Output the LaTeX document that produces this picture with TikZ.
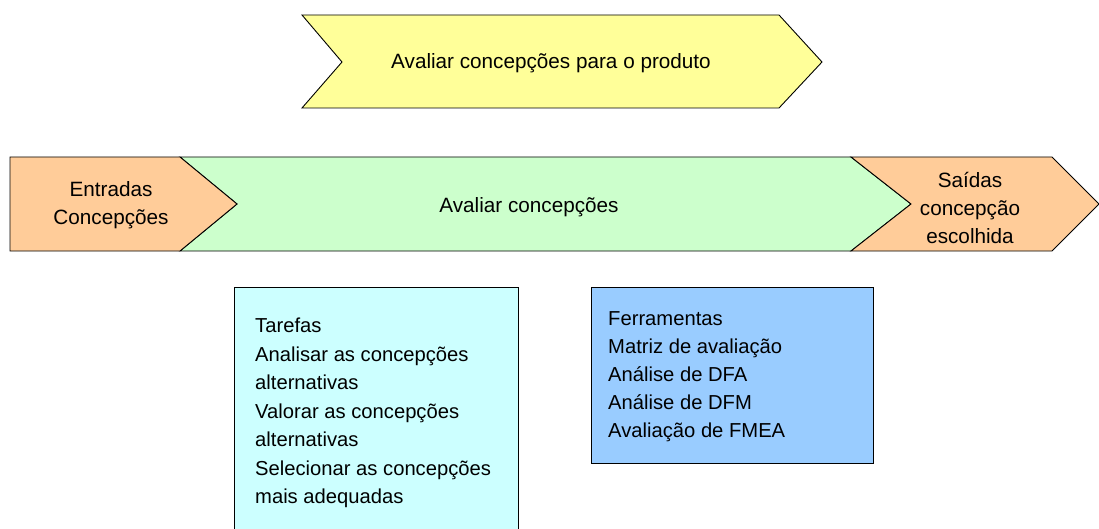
\documentclass[tikz,border=0pt]{standalone}
\usepackage{fontspec}
\setmainfont{Liberation Sans}
\definecolor{cyell}{HTML}{FFFF99}
\definecolor{cgreen}{HTML}{CCFFCC}
\definecolor{corange}{HTML}{FFCC99}
\definecolor{ccyan}{HTML}{CCFFFF}
\definecolor{cblue}{HTML}{99CCFF}
\tikzset{
  shp/.style={draw=black,line width=0.9pt,line join=miter},
  lbl/.style={inner sep=0pt,font=\fontsize{20.7}{28.3}\selectfont,align=center},
  lst/.style={inner sep=0pt,align=left,anchor=north west},
}
\begin{document}
\begin{tikzpicture}[x=1pt,y=-1pt]
\useasboundingbox (0,0) rectangle (1099,529);
% top chevron
\filldraw[shp,fill=cyell] (302,15) -- (779,15) -- (822,62) -- (779,108) -- (302,108) -- (342,62) -- cycle;
\node[lbl] (top) at (551,63) {Avaliar concepções para o produto};
% green band
\filldraw[shp,fill=cgreen] (180,157) -- (851,157) -- (911,204) -- (851,251) -- (180,251) -- (237,204) -- cycle;
\node[lbl] (mid) at (529,207) {Avaliar concepções};
% inputs
\filldraw[shp,fill=corange] (10,157) -- (180,157) -- (237,204) -- (180,251) -- (10,251) -- cycle;
\node[lbl] (in) at (111,205) {Entradas\\Concepções};
% outputs
\filldraw[shp,fill=corange] (851,157) -- (1052,157) -- (1099,204) -- (1052,251) -- (851,251) -- (911,204) -- cycle;
\node[lbl] (out) at (970,208) {Saídas\\concepção\\escolhida};
% boxes
\filldraw[shp,fill=ccyan] (234,287) rectangle (518,545);
\node[lst,font=\fontsize{20.2}{28.5}\selectfont] (tasks) at (255,318) {Tarefas\\Analisar as concepções\\alternativas\\Valorar as concepções\\alternativas\\Selecionar as concepções\\mais adequadas};
\filldraw[shp,fill=cblue] (591,287) rectangle (873,463);
\node[lst,font=\fontsize{20.2}{28.2}\selectfont] (tools) at (608,311) {Ferramentas\\Matriz de avaliação\\Análise de DFA\\Análise de DFM\\Avaliação de FMEA};
\end{tikzpicture}
\end{document}
